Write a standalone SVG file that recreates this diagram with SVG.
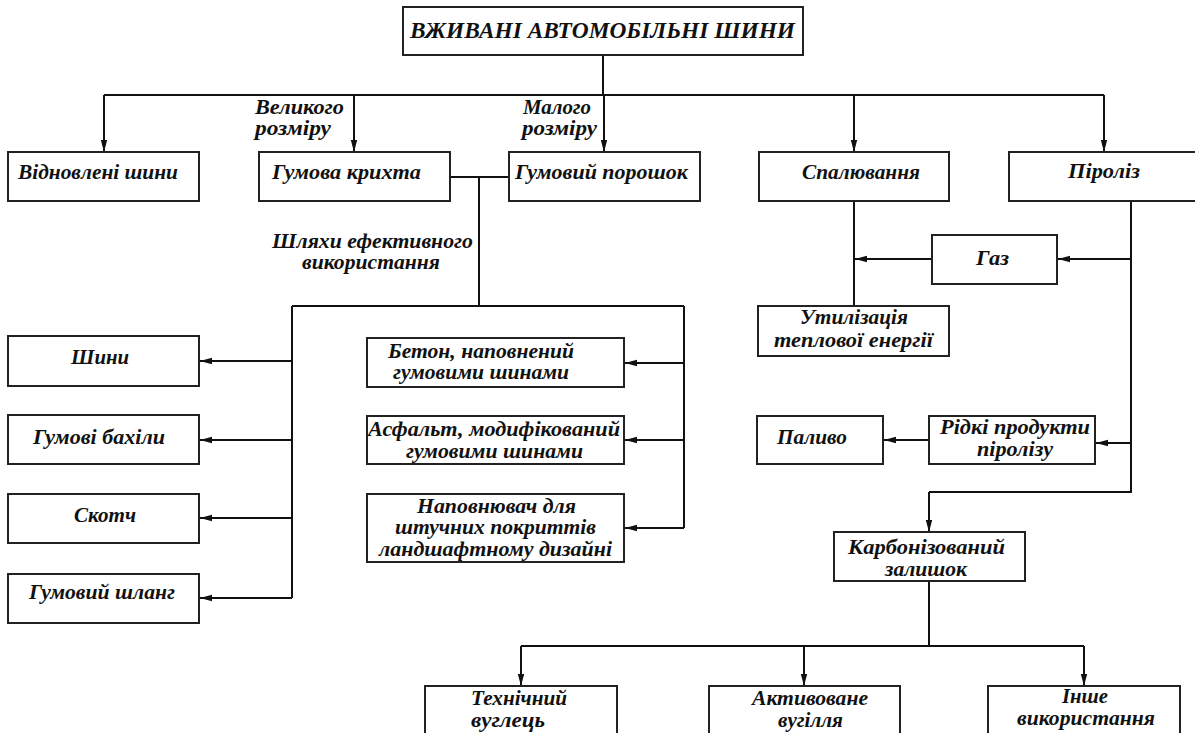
<svg xmlns="http://www.w3.org/2000/svg" width="1195" height="733" viewBox="0 0 1195 733">
<defs>
<marker id="ah" markerUnits="userSpaceOnUse" markerWidth="12" markerHeight="8" refX="12" refY="4" orient="auto">
<path d="M0,0.8 L12,4 L0,7.2 z" fill="#111"/>
</marker>
<style>
.box{fill:#fff;stroke:#222;stroke-width:2}
.t{font-family:"Liberation Serif","Times New Roman",serif;font-weight:bold;font-style:italic;font-size:20px;fill:#111}
.title{font-size:23px}
.c{fill:none;stroke:#111;stroke-width:2}
.a{fill:none;stroke:#111;stroke-width:2;marker-end:url(#ah)}
</style>
</defs>
<rect width="1195" height="733" fill="#fff"/>
<g id="connectors">
<path class="c" d="M603,55 V95 M104,95 H1104"/>
<path class="a" d="M104,95 V152"/>
<path class="a" d="M354,95 V152"/>
<path class="a" d="M604,95 V152"/>
<path class="a" d="M854,95 V152"/>
<path class="a" d="M1104,95 V152"/>
<path class="c" d="M450,177 H509 M479,177 V306 M292,306 H684 M292,306 V598 M684,306 V528"/>
<path class="a" d="M292,361 H200"/>
<path class="a" d="M292,440 H200"/>
<path class="a" d="M292,518 H200"/>
<path class="a" d="M292,598 H200"/>
<path class="a" d="M684,363 H625"/>
<path class="a" d="M684,440 H625"/>
<path class="a" d="M684,528 H625"/>
<path class="c" d="M854,201 V306"/>
<path class="c" d="M1131,201 V492 H929"/>
<path class="a" d="M929,492 V532"/>
<path class="a" d="M1131,259 H1058"/>
<path class="a" d="M932,259 H855"/>
<path class="a" d="M1131,443 H1096"/>
<path class="a" d="M929,440 H884"/>
<path class="c" d="M929,581 V646 M521,646 H1084"/>
<path class="a" d="M521,646 V686"/>
<path class="a" d="M804,646 V686"/>
<path class="a" d="M1084,646 V686"/>
</g>
<g id="labels">
<text class="t" x="255" y="114" textLength="89" lengthAdjust="spacingAndGlyphs">Великого</text>
<text class="t" x="255" y="135" textLength="76" lengthAdjust="spacingAndGlyphs">розміру</text>
<text class="t" x="523" y="114" textLength="68" lengthAdjust="spacingAndGlyphs">Малого</text>
<text class="t" x="522" y="135" textLength="75" lengthAdjust="spacingAndGlyphs">розміру</text>
<text class="t" x="272" y="248" textLength="201" lengthAdjust="spacingAndGlyphs">Шляхи ефективного</text>
<text class="t" x="302" y="269" textLength="138" lengthAdjust="spacingAndGlyphs">використання</text>
</g>
<g id="n-title"><rect class="box" x="403" y="7" width="400" height="48"/><text class="t title" x="410" y="38" textLength="385" lengthAdjust="spacingAndGlyphs">ВЖИВАНІ АВТОМОБІЛЬНІ ШИНИ</text></g>
<g id="n-vidnovleni"><rect class="box" x="8" y="152" width="191" height="49"/><text class="t" x="18" y="179" textLength="160" lengthAdjust="spacingAndGlyphs">Відновлені шини</text></g>
<g id="n-kryhta"><rect class="box" x="259" y="152" width="191" height="49"/><text class="t" x="272" y="179" textLength="149" lengthAdjust="spacingAndGlyphs">Гумова крихта</text></g>
<g id="n-poroshok"><rect class="box" x="509" y="152" width="191" height="49"/><text class="t" x="515" y="179" textLength="173" lengthAdjust="spacingAndGlyphs">Гумовий порошок</text></g>
<g id="n-spaluvannia"><rect class="box" x="759" y="152" width="190" height="49"/><text class="t" x="802" y="179" textLength="118" lengthAdjust="spacingAndGlyphs">Спалювання</text></g>
<g id="n-piroliz"><rect class="box" x="1009" y="152" width="200" height="49"/><text class="t" x="1068" y="178" textLength="72" lengthAdjust="spacingAndGlyphs">Піроліз</text></g>
<g id="n-shyny"><rect class="box" x="8" y="336" width="191" height="50"/><text class="t" x="71" y="364" textLength="58" lengthAdjust="spacingAndGlyphs">Шини</text></g>
<g id="n-bakhily"><rect class="box" x="8" y="415" width="191" height="49"/><text class="t" x="33" y="444" textLength="132" lengthAdjust="spacingAndGlyphs">Гумові бахіли</text></g>
<g id="n-skotch"><rect class="box" x="8" y="494" width="191" height="49"/><text class="t" x="74" y="522" textLength="62" lengthAdjust="spacingAndGlyphs">Скотч</text></g>
<g id="n-shlang"><rect class="box" x="8" y="574" width="191" height="49"/><text class="t" x="29" y="599" textLength="146" lengthAdjust="spacingAndGlyphs">Гумовий шланг</text></g>
<g id="n-beton"><rect class="box" x="367" y="338" width="257" height="49"/><text class="t" x="388" y="358" textLength="186" lengthAdjust="spacingAndGlyphs">Бетон, наповнений</text><text class="t" x="393" y="379" textLength="176" lengthAdjust="spacingAndGlyphs">гумовими шинами</text></g>
<g id="n-asfalt"><rect class="box" x="367" y="416" width="257" height="48"/><text class="t" x="368" y="436" textLength="252" lengthAdjust="spacingAndGlyphs">Асфальт, модифікований</text><text class="t" x="406" y="458" textLength="177" lengthAdjust="spacingAndGlyphs">гумовими шинами</text></g>
<g id="n-napovniuvach"><rect class="box" x="367" y="494" width="257" height="68"/><text class="t" x="417" y="513" textLength="159" lengthAdjust="spacingAndGlyphs">Наповнювач для</text><text class="t" x="395" y="534" textLength="201" lengthAdjust="spacingAndGlyphs">штучних покриттів</text><text class="t" x="379" y="556" textLength="233" lengthAdjust="spacingAndGlyphs">ландшафтному дизайні</text></g>
<g id="n-gaz"><rect class="box" x="932" y="235" width="125" height="49"/><text class="t" x="976" y="265" textLength="33" lengthAdjust="spacingAndGlyphs">Газ</text></g>
<g id="n-utylizatsiia"><rect class="box" x="758" y="306" width="191" height="50"/><text class="t" x="800" y="324" textLength="108" lengthAdjust="spacingAndGlyphs">Утилізація</text><text class="t" x="774" y="347" textLength="159" lengthAdjust="spacingAndGlyphs">теплової енергії</text></g>
<g id="n-palyvo"><rect class="box" x="757" y="416" width="126" height="48"/><text class="t" x="777" y="444" textLength="70" lengthAdjust="spacingAndGlyphs">Паливо</text></g>
<g id="n-ridki"><rect class="box" x="929" y="416" width="166" height="48"/><text class="t" x="940" y="434" textLength="150" lengthAdjust="spacingAndGlyphs">Рідкі продукти</text><text class="t" x="977" y="456" textLength="76" lengthAdjust="spacingAndGlyphs">піролізу</text></g>
<g id="n-karbon"><rect class="box" x="834" y="532" width="191" height="49"/><text class="t" x="848" y="554" textLength="157" lengthAdjust="spacingAndGlyphs">Карбонізований</text><text class="t" x="885" y="576" textLength="82" lengthAdjust="spacingAndGlyphs">залишок</text></g>
<g id="n-tekhnichnyi"><rect class="box" x="425" y="686" width="192" height="60"/><text class="t" x="471" y="705" textLength="96" lengthAdjust="spacingAndGlyphs">Технічний</text><text class="t" x="471" y="727" textLength="74" lengthAdjust="spacingAndGlyphs">вуглець</text></g>
<g id="n-aktyvovane"><rect class="box" x="709" y="686" width="191" height="60"/><text class="t" x="752" y="705" textLength="116" lengthAdjust="spacingAndGlyphs">Активоване</text><text class="t" x="778" y="727" textLength="65" lengthAdjust="spacingAndGlyphs">вугілля</text></g>
<g id="n-inshe"><rect class="box" x="988" y="686" width="192" height="60"/><text class="t" x="1062" y="703" textLength="46" lengthAdjust="spacingAndGlyphs">Інше</text><text class="t" x="1017" y="725" textLength="138" lengthAdjust="spacingAndGlyphs">використання</text></g>
</svg>
